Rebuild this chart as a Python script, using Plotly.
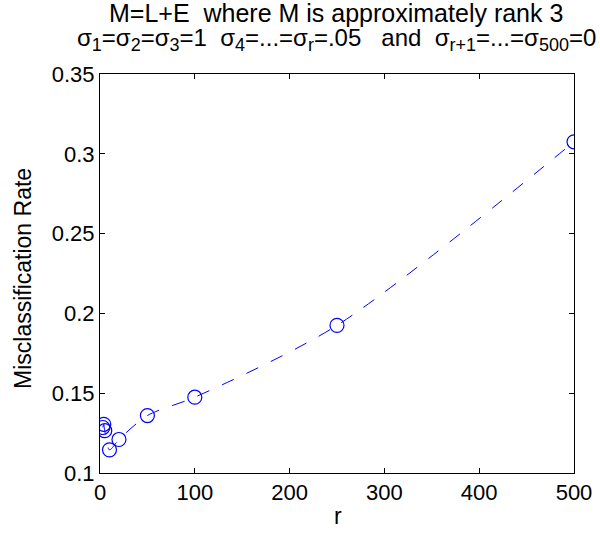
import plotly.graph_objects as go

r_vals = [3, 4, 5, 10, 20, 50, 100, 250, 500]
rate = [0.1285, 0.1305, 0.1265, 0.1145, 0.1210, 0.1360, 0.1475, 0.1925, 0.3075]

x_ticks = [0, 100, 200, 300, 400, 500]
y_ticks = [0.1, 0.15, 0.2, 0.25, 0.3, 0.35]
y_tick_text = ["0.1", "0.15", "0.2", "0.25", "0.3", "0.35"]

NB = "\u00a0"


def sub(s):
    return '<sub><span style="font-size:18px">' + s + '</span></sub>'


title_line1 = "M=L+E" + NB * 2 + "where M is approximately rank 3"
title_line2 = ("σ" + sub("1") + "=σ" + sub("2") + "=σ" + sub("3") + "=1" + NB * 2 +
               "σ" + sub("4") + "=...=σ" + sub("r") + "=.05" + NB * 3 + "and" + NB * 2 +
               "σ" + sub("r+1") + "=...=σ" + sub("500") + "=0")

FAM = "Liberation Sans, Arial, sans-serif"
tick_font = dict(family=FAM, size=22, color="black")
label_font = dict(family=FAM, size=23, color="black")
title_font = dict(family=FAM, size=25, color="black")
title2_font = dict(family=FAM, size=24, color="black")

L, R, T, B = 100, 26, 74, 64
W, H = 600, 537
PW, PH = W - L - R, H - T - B


def px_x(p):
    return (p - L) / PW


def px_y(p):
    return (H - B - p) / PH


fig = go.Figure()
fig.add_trace(go.Scatter(
    x=r_vals, y=rate, mode="lines",
    line=dict(color="#0000FF", width=1, dash="13px,14px", shape="spline", smoothing=0.8),
    hoverinfo="skip", showlegend=False,
))
fig.add_trace(go.Scatter(
    x=r_vals, y=rate, mode="markers",
    marker=dict(symbol="circle-open", size=14, color="#0000FF", line=dict(width=1.2, color="#0000FF")),
    showlegend=False,
))

fig.update_layout(
    width=W, height=H,
    paper_bgcolor="white", plot_bgcolor="white",
    margin=dict(l=L, r=R, t=T, b=B, autoexpand=False),
    font=tick_font,
    annotations=[
        dict(text=title_line1, xref="paper", yref="paper", x=px_x(336), y=px_y(13),
             xanchor="center", yanchor="middle", showarrow=False, font=title_font),
        dict(text=title_line2, xref="paper", yref="paper", x=px_x(336), y=px_y(40),
             xanchor="center", yanchor="middle", showarrow=False, font=title2_font),
        dict(text="Misclassification Rate", xref="paper", yref="paper", x=px_x(23), y=px_y(279),
             xanchor="center", yanchor="middle", showarrow=False, textangle=-90, font=label_font),
        dict(text="r", xref="paper", yref="paper", x=px_x(338), y=px_y(516),
             xanchor="center", yanchor="middle", showarrow=False, font=label_font),
    ],
    xaxis=dict(range=[0, 500], tickvals=x_ticks, ticks="inside", ticklen=5,
               showline=True, linecolor="black", linewidth=1, mirror="ticks",
               showgrid=False, zeroline=False, tickcolor="black", automargin=False,
               tickfont=tick_font),
    yaxis=dict(range=[0.1, 0.35], tickvals=y_ticks, ticktext=y_tick_text, ticks="inside", ticklen=5,
               showline=True, linecolor="black", linewidth=1, mirror="ticks",
               showgrid=False, zeroline=False, tickcolor="black", automargin=False,
               tickfont=tick_font),
)

fig.write_html("out.html", config={"displayModeBar": False},
               post_script="document.body.style.margin='0';")
